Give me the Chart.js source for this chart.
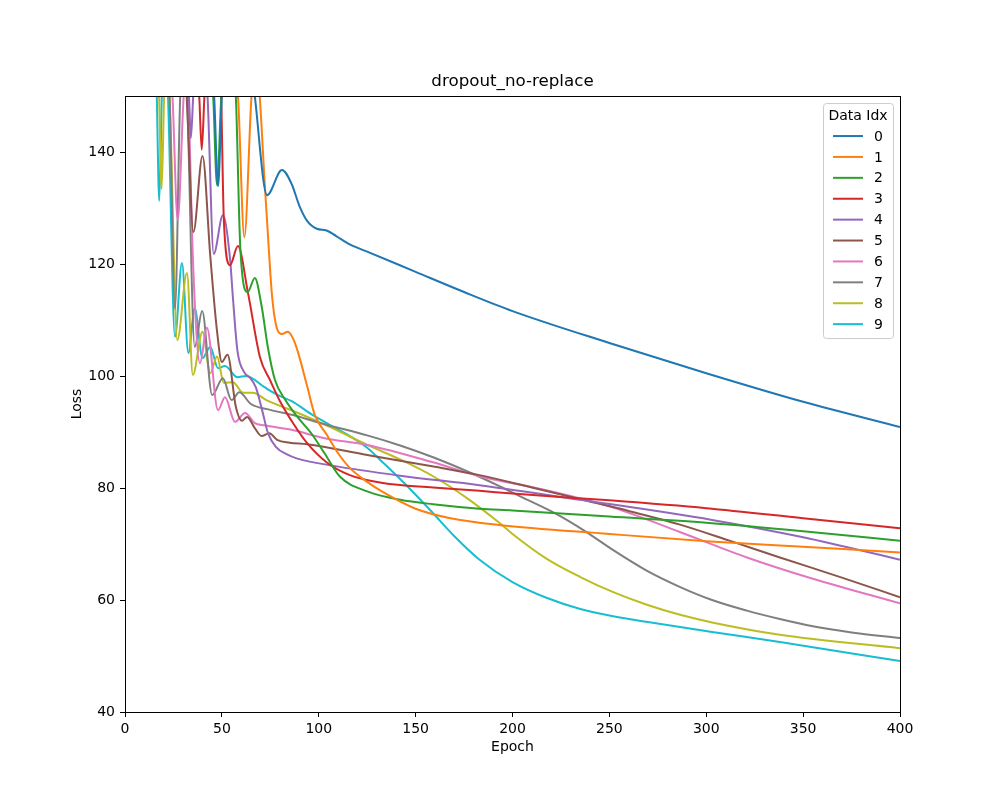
<!DOCTYPE html>
<html>
<head>
<meta charset="utf-8">
<script src="https://cdn.jsdelivr.net/npm/chart.js@4.4.1/dist/chart.umd.min.js"></script>
<style>
  html, body { margin: 0; padding: 0; background: #fff; }
  canvas { display: block; }
</style>
</head>
<body>
<canvas id="lossChart" width="1000" height="800"></canvas>
<script>
// values, [epoch, loss]
const series0 = [[10,230],[38,175],[46,150],[48,133.9],[50,150],[54,172],[61,168],[67,150],[73.3,132.3],[81,136.8],[86,134.3],[90,130.4],[94,127.7],[99,126.3],[104,126],[109,125],[116,123.5],[126.5,122],[150,118.6],[175,115],[200,111.6],[250,105.9],[300,100.5],[350,95.4],[400,90.9]];
const series1 = [[10,240],[45,178],[58.3,150],[61.6,124.8],[65.3,150],[67.3,156],[69.5,150],[72,135],[73.8,125],[75.9,114.3],[78.5,108.4],[81,107.5],[84,107.9],[87,106.5],[89.5,104],[94,98.2],[98,93],[104,89.6],[110,86.2],[116,83.6],[125,81.1],[133,79.3],[150,76.3],[168,74.6],[193,73.4],[250,71.8],[300,70.5],[350,69.5],[400,68.5]];
const series2 = [[10,230],[40,172],[45.5,150],[47.5,134.1],[49.7,150],[53,166],[57.2,150],[59.5,123],[63.3,115],[67,117.5],[70.5,112.5],[73.8,105],[77.4,99.3],[82.6,95.8],[89,92.7],[96.5,89.6],[103,86.2],[111,82],[125,79.4],[142,77.9],[159,77.1],[183,76.3],[200,76],[250,74.9],[300,73.8],[350,72.3],[400,70.6]];
const series3 = [[10,230],[30,176],[38.3,150],[39.6,140.4],[41,150],[44,166],[47.5,162],[49.6,150],[51,128],[54.2,119.8],[58.3,123.2],[63.5,114.8],[69.7,103.3],[74.8,99.3],[80,95.5],[86.7,91.6],[94,88],[104,84.6],[116,82.3],[133,80.9],[159,80.1],[183,79.5],[200,79],[250,77.8],[300,76.4],[350,74.6],[400,72.8]];
const series4 = [[10,230],[28,172],[33,150],[34,142.5],[35.2,150],[37.5,163],[40.5,160],[42.6,150],[45.8,121.8],[50.5,128.7],[54.2,121],[55.7,114],[58,104.6],[61.5,100.7],[64.5,99.7],[67.5,98],[70.7,94],[73.8,89.8],[78,87.3],[83.6,86],[88.6,85.3],[107,84],[142,82.2],[183,80.5],[235,77.9],[303,74.3],[350,71.2],[400,67.2]];
const series5 = [[10,230],[25,176],[31.8,150],[35.3,125.7],[40,139.3],[44,121.5],[47.5,108],[50,102.5],[52.9,103.8],[57.2,94.5],[60.3,92],[63,92.7],[67,90.7],[70.5,89.3],[74.5,89.8],[78.5,88.6],[85,88.1],[94,87.8],[125,85.9],[160,83.8],[183,82.3],[210,80.1],[235,78],[260,75.9],[286,73.5],[312,70.6],[338,67.6],[370,64],[400,60.5]];
const series6 = [[10,230],[20,172],[24.5,150],[27.2,127.9],[30.3,150],[31.5,154],[32.7,150],[35,121.4],[38.7,102.3],[42.3,108.6],[48,93.9],[51.6,96.2],[56.8,91.8],[62,93.4],[67,91.6],[72,91.2],[86,90.4],[103,88.9],[125,87.7],[159,84.6],[183,82.1],[217.5,79.6],[252,76.5],[286,72.2],[321,67.6],[355,63.8],[400,59.4]];
const series7 = [[10,230],[19,172],[23,150],[25.8,112],[28.5,150],[30.3,158],[32,150],[36,105.2],[39.8,111.6],[45,96.6],[50.5,99.6],[55,95.7],[59,97.1],[65,95],[74.5,94],[88,92.9],[103,91.4],[125,89.4],[142,87.6],[159,85.5],[176.5,83],[193.5,80.3],[204,78.5],[223,75.3],[237,72.4],[252,68.9],[269,65.3],[286,62.4],[303,60],[321,58.1],[338,56.6],[355,55.3],[375,54.2],[400,53.2]];
const series8 = [[10,230],[16,172],[17.6,150],[18.9,133.4],[20.2,150],[21.5,157],[23,150],[27,106.4],[32,118.4],[35,100.2],[40,107.9],[44,100.5],[47.5,103.5],[51,98.8],[55.7,98.9],[61,97],[66,97],[73,95.7],[90,93.3],[107,90.7],[125,87.7],[142,85.1],[159,82.1],[176.5,78.2],[193.5,73.7],[200,71.8],[217.5,67.4],[235,64.1],[252,61.4],[269,59.2],[286,57.4],[303,56],[338,53.8],[400,51.4]];
const series9 = [[10,230],[15,172],[16.4,150],[17.7,131.3],[19,150],[20.5,163],[22.2,150],[25.8,107],[29.4,120.2],[32.7,104.1],[36,112.1],[40,103.2],[44,105.2],[48,101.4],[51.6,101.8],[58,99.8],[62.5,100],[72,98],[79,96.6],[86,95.5],[97,93],[103,91.8],[107,91],[115,89.5],[125,87.2],[133,84.6],[142,81.6],[150,78.8],[159,75.5],[170,71.4],[183,67.2],[200,63.2],[217.5,60.4],[235,58.4],[252,57.1],[269,56.1],[303,54.3],[338,52.5],[400,49.1]];

const allSeries = [series0, series1, series2, series3, series4, series5, series6, series7, series8, series9];
const seriesLabels = ["0", "1", "2", "3", "4", "5", "6", "7", "8", "9"];
const seriesColors = ["#1f77b4", "#ff7f0e", "#2ca02c", "#d62728", "#9467bd",
                      "#8c564b", "#e377c2", "#7f7f7f", "#bcbd22", "#17becf"];
const xTicks = [0, 50, 100, 150, 200, 250, 300, 350, 400];
const yTicks = [40, 60, 80, 100, 120, 140];

const FONT = "'DejaVu Sans', sans-serif";

// matplotlib style frame + legend inside the axes
const frameAndLegend = {
  id: 'frameAndLegend',
  afterDatasetsDraw(chart) {
    const ctx = chart.ctx;
    const a = chart.chartArea;
    ctx.save();
    ctx.strokeStyle = '#000';
    ctx.lineWidth = 1;
    ctx.strokeRect(Math.round(a.left) + 0.5, Math.round(a.top) + 0.5,
                   Math.round(a.right - a.left), Math.round(a.bottom - a.top));

    const w = 70, h = 235;
    const x0 = a.right - 7 - w, y0 = a.top + 7;
    ctx.beginPath();
    ctx.roundRect(x0 + 0.5, y0 + 0.5, w, h, 3);
    ctx.fillStyle = 'rgba(255,255,255,0.8)';
    ctx.fill();
    ctx.strokeStyle = '#cccccc';
    ctx.stroke();

    ctx.fillStyle = '#000';
    ctx.font = "14px " + FONT;
    ctx.textBaseline = 'middle';
    ctx.textAlign = 'center';
    ctx.fillText("Data Idx", x0 + w / 2, y0 + 13);
    ctx.textAlign = 'left';
    chart.data.datasets.forEach((ds, i) => {
      const y = y0 + 33 + i * 20.9;
      ctx.strokeStyle = ds.borderColor;
      ctx.lineWidth = 2;
      ctx.beginPath();
      ctx.moveTo(x0 + 10, y);
      ctx.lineTo(x0 + 40, y);
      ctx.stroke();
      ctx.fillText(ds.label, x0 + 51, y + 1);
    });
    ctx.restore();
  }
};

new Chart(document.getElementById("lossChart"), {
  type: 'line',
  data: {
    datasets: allSeries.map((s, i) => ({
      label: seriesLabels[i],
      data: s.map(p => ({ x: p[0], y: p[1] })),
      borderColor: seriesColors[i],
      backgroundColor: seriesColors[i],
      borderWidth: 2,
      pointRadius: 0,
      fill: false,
      cubicInterpolationMode: 'monotone',
      clip: 0
    }))
  },
  options: {
    responsive: false,
    animation: false,
    events: [],
    layout: { padding: { left: 0, right: 100, top: 72, bottom: 0 } },
    plugins: {
      legend: { display: false },
      tooltip: { enabled: false },
      title: {
        display: true,
        text: "dropout_no-replace",
        color: '#000',
        fullSize: false,
        font: { family: FONT, size: 16.7, weight: 'normal' },
        padding: { top: 0, bottom: 4 }
      }
    },
    scales: {
      x: {
        type: 'linear',
        min: 0,
        max: 400,
        afterBuildTicks: s => { s.ticks = xTicks.map(v => ({ value: v })); },
        afterFit: s => { s.height = 88; },
        grid: { display: true, drawOnChartArea: false, drawTicks: true, tickLength: 5, tickColor: '#000' },
        border: { display: true, color: '#000', width: 1 },
        ticks: { color: '#000', padding: 4, maxRotation: 0, font: { family: FONT, size: 14 } },
        title: { display: true, text: "Epoch", color: '#000', font: { family: FONT, size: 14 }, padding: { top: 0, bottom: 44 } }
      },
      y: {
        min: 40,
        max: 150,
        afterBuildTicks: s => { s.ticks = yTicks.map(v => ({ value: v })); },
        afterFit: s => { s.width = 125; },
        grid: { display: true, drawOnChartArea: false, drawTicks: true, tickLength: 5, tickColor: '#000' },
        border: { display: true, color: '#000', width: 1 },
        ticks: { color: '#000', padding: 5, font: { family: FONT, size: 14 } },
        title: { display: true, text: "Loss", color: '#000', font: { family: FONT, size: 14 }, padding: { top: 68.6, bottom: 0 } }
      }
    }
  },
  plugins: [frameAndLegend]
});
</script>
</body>
</html>
